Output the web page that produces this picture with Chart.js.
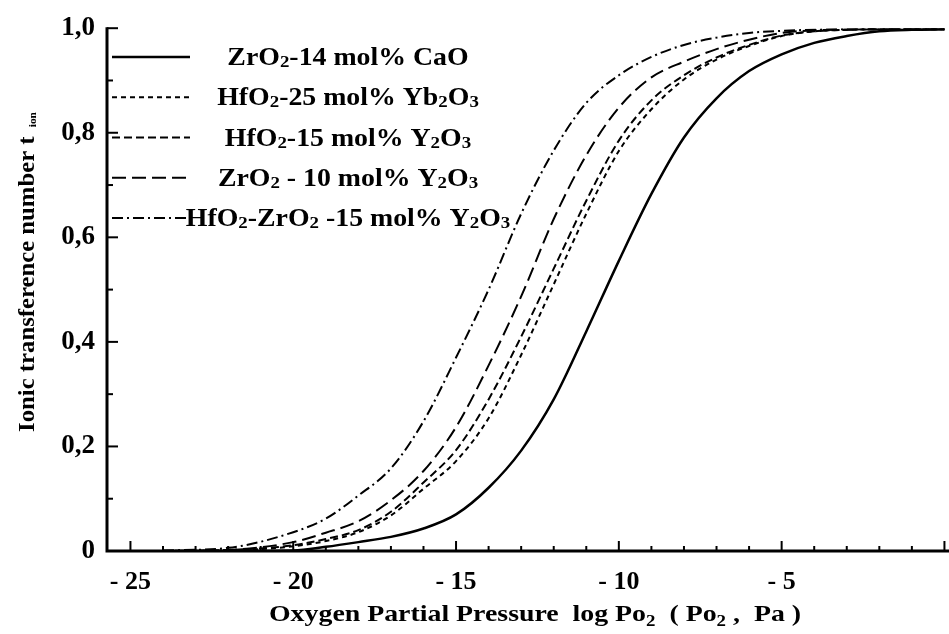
<!DOCTYPE html>
<html>
<head>
<meta charset="utf-8">
<script src="https://cdn.jsdelivr.net/npm/chart.js@4.4.1/dist/chart.umd.min.js"></script>
<style>
  body { margin: 0; background: #fff; }
  canvas { display: block; }
</style>
</head>
<body>
<canvas id="tionChart" width="949" height="634"></canvas>
<script>
// log Po2 (Pa) values the curves were read at
const logPo2 = [-24, -22, -20, -19, -18, -17, -16, -15, -14, -13, -12, -11, -10, -9, -8, -7, -6, -5, -4, -3, -2, -1, 0];

// ionic transference number t_ion of each electrolyte
const tZrO2CaO      = [0, 0, 0.001, 0.008, 0.017, 0.027, 0.043, 0.070, 0.121, 0.192, 0.290, 0.420, 0.555, 0.683, 0.791, 0.866, 0.918, 0.950, 0.972, 0.985, 0.994, 0.997, 0.998];
const tHfO2Yb2O3    = [0, 0.001, 0.009, 0.019, 0.036, 0.068, 0.119, 0.172, 0.254, 0.375, 0.510, 0.645, 0.765, 0.845, 0.902, 0.940, 0.966, 0.985, 0.994, 0.997, 0.998, 0.998, 0.998];
const tHfO2Y2O3     = [0, 0.002, 0.011, 0.023, 0.040, 0.075, 0.131, 0.193, 0.290, 0.410, 0.540, 0.670, 0.785, 0.862, 0.910, 0.944, 0.968, 0.986, 0.994, 0.997, 0.998, 0.998, 0.998];
const tZrO2Y2O3     = [0, 0.002, 0.017, 0.035, 0.057, 0.097, 0.153, 0.237, 0.355, 0.487, 0.635, 0.757, 0.848, 0.906, 0.936, 0.960, 0.978, 0.991, 0.996, 0.997, 0.998, 0.998, 0.998];
const tHfO2ZrO2Y2O3 = [0.001, 0.006, 0.036, 0.062, 0.106, 0.158, 0.248, 0.370, 0.500, 0.645, 0.766, 0.857, 0.910, 0.945, 0.968, 0.982, 0.991, 0.995, 0.997, 0.998, 0.998, 0.998, 0.998];

const seriesLabels = ['ZrO₂-14 mol% CaO', 'HfO₂-25 mol% Yb₂O₃', 'HfO₂-15 mol% Y₂O₃', 'ZrO₂ - 10 mol% Y₂O₃', 'HfO₂-ZrO₂ -15 mol% Y₂O₃'];
const xTicks = [-25, -20, -15, -10, -5];
const yTicks = [0, 0.2, 0.4, 0.6, 0.8, 1.0];
const xTitle = 'Oxygen Partial Pressure  log Po₂  ( Po₂ ,  Pa )';
const yTitle = 'Ionic transference number t';
const yTitleSub = 'ion';

const SERIF = '"Liberation Serif", "Times New Roman", serif';
const SUBS = '₀₁₂₃₄₅₆₇₈₉';

// split a label into normal / subscript runs
function richParts(text) {
  const parts = [];
  for (const ch of text) {
    const i = SUBS.indexOf(ch);
    const sub = i >= 0;
    const c = sub ? String(i) : ch;
    const last = parts[parts.length - 1];
    if (last && last.sub === sub) last.t += c;
    else parts.push({ t: c, sub: sub });
  }
  return parts;
}

// draws bold serif text with subscripts, stretched sideways by sx
function drawRich(ctx, text, x, y, size, subScale, subDrop, sx) {
  const parts = richParts(text);
  let w = 0;
  parts.forEach(p => {
    ctx.font = 'bold ' + (p.sub ? size * subScale : size) + 'px ' + SERIF;
    p.w = ctx.measureText(p.t).width;
    w += p.w;
  });
  ctx.save();
  ctx.translate(x - w * sx / 2, y);
  ctx.scale(sx, 1);
  let cx = 0;
  parts.forEach(p => {
    ctx.font = 'bold ' + (p.sub ? size * subScale : size) + 'px ' + SERIF;
    ctx.fillText(p.t, cx, p.sub ? size * subDrop : 0);
    cx += p.w;
  });
  ctx.restore();
}

function makeSet(label, values, dash, width) {
  return {
    label: label,
    data: logPo2.map((x, i) => ({ x: x, y: values[i] })),
    borderColor: '#000',
    borderWidth: width,
    borderDash: dash,
    pointRadius: 0,
    fill: false,
    cubicInterpolationMode: 'monotone'
  };
}

// axes with inward ticks, legend and axis titles
const framePlugin = {
  id: 'frame',
  afterDraw(chart) {
    const ctx = chart.ctx;
    const a = chart.chartArea;
    const xs = chart.scales.x;
    const ys = chart.scales.y;
    ctx.save();
    ctx.strokeStyle = '#000';
    ctx.fillStyle = '#000';
    ctx.setLineDash([]);
    ctx.lineWidth = 3;
    ctx.beginPath();
    ctx.moveTo(a.left, a.top - 1);
    ctx.lineTo(a.left, a.bottom);
    ctx.lineTo(a.right, a.bottom);
    ctx.stroke();

    ctx.lineWidth = 2;
    for (let v = -25; v <= 0; v++) {
      const px = xs.getPixelForValue(v);
      const len = v % 5 === 0 ? 10 : 5;
      ctx.beginPath();
      ctx.moveTo(px, a.bottom);
      ctx.lineTo(px, a.bottom - len);
      ctx.stroke();
    }
    for (let k = 1; k <= 10; k++) {
      const py = ys.getPixelForValue(k / 10);
      const len = k % 2 === 0 ? 11 : 6;
      ctx.beginPath();
      ctx.moveTo(a.left, py);
      ctx.lineTo(a.left + len, py);
      ctx.stroke();
    }

    // legend
    ctx.textBaseline = 'alphabetic';
    chart.data.datasets.forEach((ds, i) => {
      const base = 65 + i * 40.25;
      ctx.lineWidth = ds.borderWidth;
      ctx.setLineDash(ds.borderDash);
      ctx.beginPath();
      ctx.moveTo(112, base - 8);
      ctx.lineTo(i === 4 ? 186 : 190, base - 8);
      ctx.stroke();
      ctx.setLineDash([]);
      drawRich(ctx, ds.label, 348, base, 26, 0.68, 0.08, 1.07);
    });

    // x title
    drawRich(ctx, xTitle, 535, 621, 24, 0.68, 0.22, 1.16);

    // y title, rotated
    ctx.save();
    ctx.translate(34, 272);
    ctx.rotate(-Math.PI / 2);
    ctx.scale(1.03, 1);
    ctx.font = 'bold 24px ' + SERIF;
    const mainW = ctx.measureText(yTitle).width;
    ctx.font = 'bold 11px ' + SERIF;
    const subW = ctx.measureText(yTitleSub).width;
    const total = mainW + 9 + subW;
    ctx.font = 'bold 24px ' + SERIF;
    ctx.fillText(yTitle, -total / 2, 0);
    ctx.font = 'bold 11px ' + SERIF;
    ctx.fillText(yTitleSub, -total / 2 + mainW + 9, 2);
    ctx.restore();

    ctx.restore();
  }
};

const chart = new Chart(document.getElementById('tionChart').getContext('2d'), {
  type: 'line',
  data: {
    datasets: [
      makeSet(seriesLabels[0], tZrO2CaO, [], 2.5),
      makeSet(seriesLabels[1], tHfO2Yb2O3, [5, 4], 2),
      makeSet(seriesLabels[2], tHfO2Y2O3, [8, 4], 2),
      makeSet(seriesLabels[3], tZrO2Y2O3, [14, 6], 2),
      makeSet(seriesLabels[4], tHfO2ZrO2Y2O3, [11, 4, 2, 4], 2)
    ]
  },
  options: {
    responsive: false,
    animation: false,
    layout: { padding: { top: 21, right: 0, left: 0, bottom: 0 } },
    plugins: {
      legend: { display: false },
      tooltip: { enabled: false }
    },
    scales: {
      x: {
        type: 'linear',
        min: -25.72,
        max: 0.14,
        afterBuildTicks: s => { s.ticks = xTicks.map(v => ({ value: v })); },
        afterFit: s => { s.height = 83; },
        grid: { display: false, drawTicks: false },
        border: { display: false },
        ticks: {
          color: '#000',
          padding: 16,
          maxRotation: 0,
          font: { family: SERIF, size: 26, weight: 'bold' },
          callback: v => '- ' + Math.abs(v)
        }
      },
      y: {
        type: 'linear',
        min: 0,
        max: 1,
        afterBuildTicks: s => { s.ticks = yTicks.map(v => ({ value: v })); },
        afterFit: s => { s.width = 107; },
        grid: { display: false, drawTicks: false },
        border: { display: false },
        ticks: {
          color: '#000',
          padding: 12,
          font: { family: SERIF, size: 27, weight: 'bold' },
          callback: v => v === 0 ? '0' : v.toFixed(1).replace('.', ',')
        }
      }
    }
  },
  plugins: [framePlugin]
});
</script>
</body>
</html>
